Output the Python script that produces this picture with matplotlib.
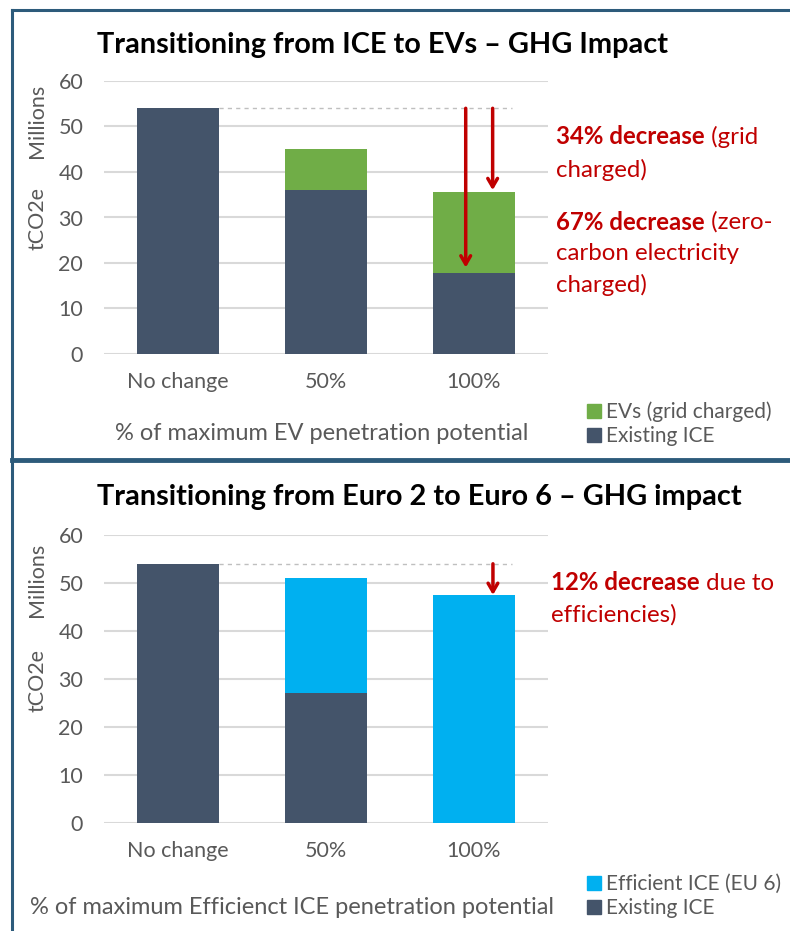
import numpy as np
import matplotlib.pyplot as plt
from matplotlib.lines import Line2D
from matplotlib.patches import Patch

plt.rcParams['font.family'] = ['Lato', 'DejaVu Sans']

categories = ['No change', '50%', '100%']

# top chart: ICE -> EVs (million tCO2e)
ev_existing = [54, 36, 17.8]
ev_grid = [0, 9, 17.7]

# bottom chart: Euro 2 -> Euro 6
eu_existing = [54, 27, 0]
eu_efficient = [0, 24, 47.5]

baseline = 54
ev_tips = [19.0, 36.0]
eu_tip = 47.5

DARK = '#44546a'
GREEN = '#70ad47'
BLUE = '#00b0f0'
RED = '#c00000'
GREY = '#595959'
FRAME = '#2d5b7b'

W, H = 790, 931
fig = plt.figure(figsize=(W / 100, H / 100), dpi=100)


def fx(px):
    return px / W


def fy(py):
    return 1 - py / H


def setup_axes(ax):
    ax.set_ylim(0, 60)
    ax.set_xlim(-0.5, 2.5)
    ax.set_yticks(range(0, 61, 10))
    ax.set_xticks(range(3))
    ax.set_xticklabels(categories)
    for s in ax.spines.values():
        s.set_visible(False)
    ax.grid(axis='y', color='#d9d9d9', lw=1.5)
    ax.set_axisbelow(True)
    ax.tick_params(length=0, labelsize=15.5, labelcolor=GREY)
    ax.tick_params(axis='y', pad=15)
    ax.tick_params(axis='x', pad=13)


x = np.arange(3)
bw = 0.56

# ---------- top panel ----------
ax1 = fig.add_axes([fx(104), fy(354), fx(548) - fx(104), fy(81) - fy(354)])
setup_axes(ax1)
ax1.bar(x, ev_existing, bw, color=DARK)
ax1.bar(x, ev_grid, bw, bottom=ev_existing, color=GREEN)
ax1.plot([bw / 2, 2.26], [baseline, baseline], ls=(0, (3, 3)), color='#bfbfbf', lw=1)
for xa, tip in zip([1.944, 2.126], ev_tips):
    ax1.annotate('', xy=(xa, tip), xytext=(xa, baseline),
                 arrowprops=dict(arrowstyle='->,head_width=0.35,head_length=0.6',
                                 color=RED, lw=2.5, shrinkA=0, shrinkB=0))

# ---------- bottom panel ----------
ax2 = fig.add_axes([fx(104), fy(823), fx(548) - fx(104), fy(535) - fy(823)])
setup_axes(ax2)
ax2.bar(x, eu_existing, bw, color=DARK)
ax2.bar(x, eu_efficient, bw, bottom=eu_existing, color=BLUE)
ax2.plot([bw / 2, 2.26], [baseline, baseline], ls=(0, (3, 3)), color='#bfbfbf', lw=1)
ax2.annotate('', xy=(2.128, eu_tip), xytext=(2.128, baseline),
             arrowprops=dict(arrowstyle='->,head_width=0.35,head_length=0.6',
                             color=RED, lw=2.5, shrinkA=0, shrinkB=0))

# titles
fig.text(fx(97), fy(45), 'Transitioning from ICE to EVs \u2013 GHG Impact',
         fontsize=20.8, fontweight='bold', va='center', ha='left')
fig.text(fx(97), fy(497), 'Transitioning from Euro 2 to Euro 6 \u2013 GHG impact',
         fontsize=20.8, fontweight='bold', va='center', ha='left')

# y labels
for yc_m, yc_t in [(121, 219), (580, 681)]:
    fig.text(fx(37), fy(yc_m), 'Millions', rotation=90, fontsize=15.5, color=GREY,
             ha='center', va='center')
    fig.text(fx(37), fy(yc_t), 'tCO2e', rotation=90, fontsize=15.5, color=GREY,
             ha='center', va='center')

# x labels
fig.text(fx(322), fy(433), '% of maximum EV penetration potential', fontsize=17,
         color=GREY, ha='center', va='center')
fig.text(fx(292), fy(907), '% of maximum Efficienct ICE penetration potential',
         fontsize=17, color=GREY, ha='center', va='center')


# red callouts: bold lead-in, regular rest, then wrapped lines
def callout(xpx, ypx, bold, rest, more, step=32):
    t = fig.text(fx(xpx), fy(ypx), bold, fontsize=17.3, fontweight='bold',
                 color=RED, ha='left', va='center')
    fig.add_artist(plt.Annotation(rest, xy=(1, 0.5), xycoords=t,
                                  fontsize=17.3, color=RED, ha='left', va='center'))
    for i, line in enumerate(more):
        fig.text(fx(xpx), fy(ypx + step * (i + 1)), line, fontsize=17.3, color=RED,
                 ha='left', va='center')


callout(556, 137, '34% decrease', ' (grid', ['charged)'], step=33)
callout(556, 222, '67% decrease', ' (zero-', ['carbon electricity', 'charged)'], step=31.5)
callout(551, 583, '12% decrease', ' due to', ['efficiencies)'], step=32)

# legends
fig.legend(handles=[Patch(color=GREEN, label='EVs (grid charged)'),
                    Patch(color=DARK, label='Existing ICE')],
           loc='center left', bbox_to_anchor=(fx(577), fy(424)), frameon=False,
           fontsize=15, labelcolor=GREY, handlelength=0.65, handleheight=0.65,
           handletextpad=0.25, labelspacing=0.2, borderpad=0)
fig.legend(handles=[Patch(color=BLUE, label='Efficient ICE (EU 6)'),
                    Patch(color=DARK, label='Existing ICE')],
           loc='center left', bbox_to_anchor=(fx(577), fy(896)), frameon=False,
           fontsize=15, labelcolor=GREY, handlelength=0.65, handleheight=0.65,
           handletextpad=0.25, labelspacing=0.2, borderpad=0)

# panel frame
fig.add_artist(Line2D([fx(12), fx(12)], [fy(10), 0], color=FRAME, lw=2.2))
fig.add_artist(Line2D([fx(12), 1], [fy(10), fy(10)], color=FRAME, lw=2.2))
fig.add_artist(Line2D([fx(12), 1], [fy(460), fy(460)], color=FRAME, lw=3.5))

fig.savefig('out.png', dpi=100)
